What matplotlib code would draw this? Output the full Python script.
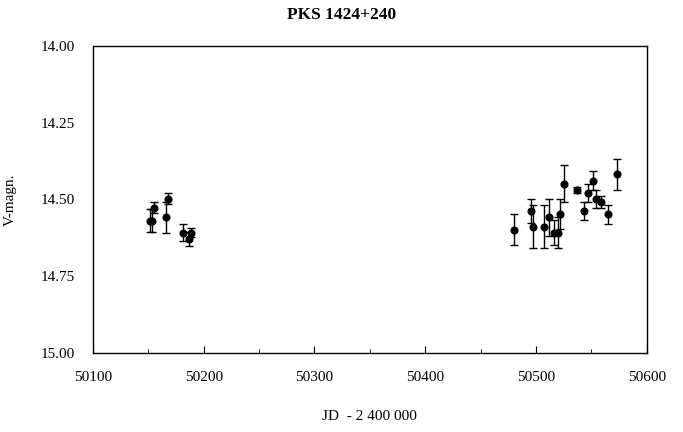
import matplotlib
matplotlib.use("Agg")
import matplotlib.pyplot as plt
from matplotlib.ticker import MultipleLocator, FormatStrFormatter

# Light curve values (JD - 2400000, V magnitude, error)
jd = [50151.4, 50153.2, 50155.3, 50165.6, 50167.7, 50181.0, 50186.6, 50188.2,
      50480.0, 50495.9, 50497.1, 50507.0, 50511.8, 50516.0, 50519.7, 50521.2,
      50525.0, 50537.0, 50543.2, 50547.0, 50551.0, 50554.0, 50558.8, 50565.0,
      50573.0]
vmag = [14.569, 14.569, 14.528, 14.558, 14.498, 14.608, 14.629, 14.608,
        14.599, 14.538, 14.589, 14.589, 14.558, 14.608, 14.608, 14.548,
        14.449, 14.469, 14.538, 14.480, 14.439, 14.499, 14.509, 14.549,
        14.419]
verr = [0.038, 0.038, 0.018, 0.050, 0.018, 0.029, 0.024, 0.016,
        0.050, 0.040, 0.070, 0.070, 0.060, 0.040, 0.050, 0.050,
        0.060, 0.009, 0.030, 0.030, 0.030, 0.030, 0.020, 0.030,
        0.050]

plt.rcParams['font.family'] = ['Liberation Serif', 'DejaVu Serif']

fig = plt.figure(figsize=(6.83, 4.32), dpi=100)
ax = fig.add_axes([0.136, 0.183, 0.811, 0.711])

ax.errorbar(jd, vmag, yerr=verr, fmt='o', color='black', ecolor='black',
            markersize=4.8, elinewidth=1.0, capsize=3, capthick=1.0)

ax.set_xlim(50100, 50600)
ax.set_ylim(15.0, 14.0)
ax.xaxis.set_major_locator(MultipleLocator(100))
ax.xaxis.set_minor_locator(MultipleLocator(50))
ax.yaxis.set_major_locator(MultipleLocator(0.25))
ax.yaxis.set_major_formatter(FormatStrFormatter('%.2f'))

ax.tick_params(axis='both', which='both', direction='in', labelsize=11)
ax.tick_params(axis='x', which='major', length=5, pad=13)
ax.tick_params(axis='x', which='minor', length=3)
ax.tick_params(axis='y', which='major', length=0, pad=13)
ax.tick_params(top=False, right=False)
for s in ax.spines.values():
    s.set_linewidth(1.0)

ax.set_xlabel('JD  - 2 400 000', fontsize=11, labelpad=19)
ax.set_ylabel('V-magn.', fontsize=11, labelpad=17)
fig.text(0.5, 0.965, 'PKS 1424+240', ha='center', va='center',
         fontsize=12.5, fontweight='bold')

fig.savefig('out.png', dpi=100)
